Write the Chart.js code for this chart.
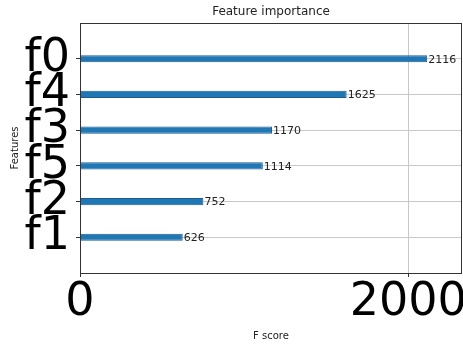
<!DOCTYPE html>
<html lang="en">
<head>
    <meta charset="UTF-8">
    <script src="https://cdn.jsdelivr.net/npm/chart.js"></script>
    <title>Feature importance</title>
    <style>
        html, body { margin: 0; padding: 0; background: #fff; }
        #wrap { width: 463px; height: 347px; }
    </style>
</head>
<body>
    <div id="wrap"><canvas id="chart"></canvas></div>
    <script>
        // features top to bottom, with their F scores
        const features = ['f0', 'f4', 'f3', 'f5', 'f2', 'f1'];
        const scores = [2116, 1625, 1170, 1114, 752, 626];
        const xTicks = [0, 2000];
        const xMax = 2328;

        // one empty slot above and below, like the matplotlib margins
        const labels = [''].concat(features, ['']);
        const values = [null].concat(scores, [null]);

        const hideEmpty = (color) => (ctx) => (ctx.tick && ctx.tick.label === '') ? 'rgba(0,0,0,0)' : color;

        // draws the number at the end of each bar and the axes frame
        const barText = {
            id: 'barText',
            afterDatasetsDraw(chart) {
                const c = chart.ctx;
                const meta = chart.getDatasetMeta(0);
                c.save();
                c.font = '11px "DejaVu Sans"';
                c.fillStyle = '#222';
                c.textAlign = 'left';
                c.textBaseline = 'middle';
                meta.data.forEach((bar, i) => {
                    if (values[i] == null) return;
                    c.fillText(String(values[i]), bar.x + 1, bar.y + 1);
                });
                c.restore();
            },
            afterDraw(chart) {
                const a = chart.chartArea;
                const c = chart.ctx;
                c.save();
                c.strokeStyle = '#333';
                c.lineWidth = 1;
                c.strokeRect(Math.round(a.left) + 0.5, Math.round(a.top) + 0.5,
                    Math.round(a.right - a.left) - 1, Math.round(a.bottom - a.top));
                c.restore();
            }
        };

        new Chart(document.getElementById('chart'), {
            type: 'bar',
            data: {
                labels: labels,
                datasets: [{
                    data: values,
                    backgroundColor: '#1f77b4',
                    borderColor: '#1d5c95',
                    borderWidth: 1,
                    barPercentage: 0.2,
                    categoryPercentage: 1
                }]
            },
            options: {
                indexAxis: 'y',
                responsive: true,
                maintainAspectRatio: false,
                animation: false,
                layout: { padding: { left: 0, right: 1, top: 0, bottom: 0 } },
                plugins: {
                    legend: { display: false },
                    tooltip: { enabled: false },
                    title: {
                        display: true,
                        text: 'Feature importance',
                        fullSize: false,
                        color: '#222',
                        font: { family: 'DejaVu Sans', size: 12, weight: 'normal' },
                        padding: { top: 5, bottom: 3.6 }
                    }
                },
                scales: {
                    x: {
                        type: 'linear',
                        min: 0,
                        max: xMax,
                        afterBuildTicks: (scale) => { scale.ticks = xTicks.map(v => ({ value: v })); },
                        afterFit: (scale) => { scale.height = 74; scale.paddingLeft = 0; scale.paddingRight = 0; },
                        ticks: {
                            color: '#000',
                            font: { family: 'DejaVu Sans', size: 46 },
                            padding: -2,
                            maxRotation: 0,
                            callback: (v) => String(v)
                        },
                        grid: { color: '#c8c8c8', tickColor: '#333', tickLength: 4 },
                        border: { display: false },
                        title: {
                            display: true,
                            text: 'F score',
                            color: '#222',
                            font: { family: 'DejaVu Sans', size: 10 },
                            padding: { top: 0, bottom: 5 }
                        }
                    },
                    y: {
                        type: 'category',
                        offset: false,
                        afterFit: (scale) => { scale.width = 80; scale.paddingTop = 0; scale.paddingBottom = 0; },
                        ticks: {
                            autoSkip: false,
                            color: '#000',
                            font: { family: 'DejaVu Sans', size: 46 },
                            padding: 6
                        },
                        grid: { offset: false, color: hideEmpty('#c8c8c8'), tickColor: hideEmpty('#333'), tickLength: 4 },
                        border: { display: false },
                        title: {
                            display: true,
                            text: 'Features',
                            color: '#222',
                            font: { family: 'DejaVu Sans', size: 10 },
                            padding: { top: 9, bottom: 0 }
                        }
                    }
                }
            },
            plugins: [barText]
        });
    </script>
</body>
</html>
